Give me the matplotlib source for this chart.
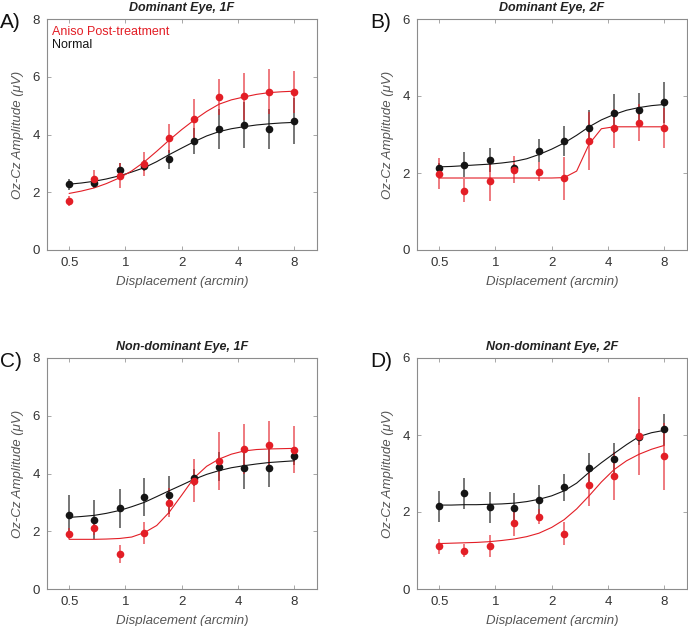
import matplotlib
matplotlib.use("Agg")
import matplotlib.pyplot as plt
import numpy as np

plt.rcParams['font.family'] = ['Liberation Sans', 'DejaVu Sans']

# displacement (arcmin), 10 log-spaced conditions
disp = [0.5, 0.68, 0.93, 1.26, 1.71, 2.33, 3.17, 4.31, 5.87, 8.0]
fit_x = [0.5, 0.58, 0.68, 0.79, 0.93, 1.08, 1.26, 1.47, 1.71, 2.0,
         2.33, 2.72, 3.17, 3.69, 4.31, 5.03, 5.87, 6.85, 8.0]

# A) Dominant Eye, 1F
a_aniso = [1.70, 2.46, 2.58, 2.97, 3.87, 4.54, 5.31, 5.32, 5.48, 5.47]
a_aniso_err = [0.18, 0.30, 0.43, 0.42, 0.50, 0.70, 0.62, 0.82, 0.78, 0.72]
a_norm = [2.27, 2.33, 2.77, 2.92, 3.14, 3.78, 4.19, 4.33, 4.19, 4.48]
a_norm_err = [0.18, 0.20, 0.25, 0.20, 0.32, 0.45, 0.70, 0.80, 0.70, 0.80]
a_aniso_fit = [1.96, 2.04, 2.15, 2.30, 2.50, 2.74, 3.05, 3.42, 3.80, 4.17,
               4.50, 4.80, 5.05, 5.20, 5.30, 5.39, 5.45, 5.48, 5.50]
a_norm_fit = [2.28, 2.32, 2.38, 2.46, 2.57, 2.70, 2.85, 3.06, 3.30, 3.53,
              3.75, 3.95, 4.10, 4.20, 4.27, 4.33, 4.37, 4.40, 4.42]

# B) Dominant Eye, 2F
b_aniso = [1.98, 1.54, 1.80, 2.08, 2.03, 1.86, 2.83, 3.16, 3.30, 3.18]
b_aniso_err = [0.40, 0.30, 0.53, 0.35, 0.25, 0.55, 0.75, 0.50, 0.48, 0.52]
b_norm = [2.14, 2.22, 2.34, 2.14, 2.58, 2.83, 3.18, 3.55, 3.64, 3.84]
b_norm_err = [0.12, 0.33, 0.32, 0.10, 0.30, 0.38, 0.45, 0.50, 0.43, 0.53]
b_aniso_fit = [1.87, 1.87, 1.87, 1.87, 1.87, 1.87, 1.87, 1.87, 1.87, 1.87,
               1.88, 2.05, 2.75, 3.15, 3.20, 3.20, 3.20, 3.20, 3.20]
b_norm_fit = [2.16, 2.17, 2.19, 2.21, 2.23, 2.26, 2.30, 2.37, 2.48, 2.62,
              2.78, 2.98, 3.20, 3.38, 3.52, 3.63, 3.70, 3.75, 3.78]

# C) Non-dominant Eye, 1F
c_aniso = [1.92, 2.11, 1.21, 1.95, 2.99, 3.75, 4.43, 4.84, 4.99, 4.83]
c_aniso_err = [0.20, 0.25, 0.30, 0.38, 0.50, 0.75, 1.00, 0.87, 0.83, 0.80]
c_norm = [2.58, 2.40, 2.79, 3.18, 3.25, 3.86, 4.23, 4.18, 4.20, 4.60]
c_norm_err = [0.68, 0.68, 0.69, 0.65, 0.65, 0.30, 0.50, 0.73, 0.66, 0.30]
c_aniso_fit = [1.72, 1.72, 1.72, 1.73, 1.75, 1.80, 1.95, 2.20, 2.65, 3.25,
               3.85, 4.25, 4.50, 4.67, 4.78, 4.83, 4.85, 4.86, 4.87]
c_norm_fit = [2.48, 2.51, 2.55, 2.62, 2.72, 2.85, 3.00, 3.20, 3.40, 3.60,
              3.80, 3.97, 4.10, 4.20, 4.27, 4.33, 4.38, 4.41, 4.44]

# D) Non-dominant Eye, 2F
d_aniso = [1.11, 1.00, 1.11, 1.72, 1.88, 1.44, 2.69, 2.93, 3.97, 3.45]
d_aniso_err = [0.20, 0.18, 0.28, 0.35, 0.20, 0.31, 0.53, 0.62, 1.02, 0.87]
d_norm = [2.15, 2.49, 2.12, 2.10, 2.32, 2.64, 3.14, 3.37, 3.95, 4.15]
d_norm_err = [0.40, 0.40, 0.40, 0.40, 0.38, 0.36, 0.38, 0.43, 0.20, 0.40]
d_aniso_fit = [1.18, 1.19, 1.20, 1.21, 1.23, 1.26, 1.30, 1.36, 1.45, 1.60,
               1.80, 2.08, 2.42, 2.78, 3.10, 3.33, 3.50, 3.63, 3.73]
d_norm_fit = [2.18, 2.18, 2.19, 2.19, 2.20, 2.21, 2.23, 2.27, 2.33, 2.42,
              2.55, 2.75, 3.03, 3.28, 3.52, 3.75, 3.96, 4.06, 4.12]

titles = ["Dominant Eye, 1F", "Dominant Eye, 2F",
          "Non-dominant Eye, 1F", "Non-dominant Eye, 2F"]
letters = ["A)", "B)", "C)", "D)"]
ymax = [8, 6, 8, 6]

panels = [
    (a_aniso, a_aniso_err, a_norm, a_norm_err, a_aniso_fit, a_norm_fit),
    (b_aniso, b_aniso_err, b_norm, b_norm_err, b_aniso_fit, b_norm_fit),
    (c_aniso, c_aniso_err, c_norm, c_norm_err, c_aniso_fit, c_norm_fit),
    (d_aniso, d_aniso_err, d_norm, d_norm_err, d_aniso_fit, d_norm_fit),
]

RED = '#e31e26'
BLK = '#151515'
GRAY = '#555555'

W, H = 688, 626
fig = plt.figure(figsize=(W / 100, H / 100), dpi=100)

# axes boxes in pixels: left, top
boxes = [(47, 19), (417, 19), (47, 358), (417, 358)]
aw, ah = 270, 231

for i, (an, an_e, no, no_e, an_fit, no_fit) in enumerate(panels):
    left, top = boxes[i]
    ax = fig.add_axes([left / W, (H - top - ah) / H, aw / W, ah / H])
    ax.set_xscale('log')

    ax.errorbar(disp, no, yerr=no_e, fmt='none', ecolor=BLK, elinewidth=1.1,
                alpha=0.75, zorder=2)
    ax.errorbar(disp, an, yerr=an_e, fmt='none', ecolor=RED, elinewidth=1.1,
                alpha=0.75, zorder=2)
    ax.plot(fit_x, no_fit, color=BLK, lw=0.8, zorder=3)
    ax.plot(fit_x, an_fit, color=RED, lw=0.8, zorder=3)
    ax.plot(disp, no, 'o', color=BLK, ms=5.5, mec='none', zorder=4)
    ax.plot(disp, an, 'o', color=RED, ms=5.5, mec='none', zorder=4)

    ax.set_xlim(0.38, 10.6)
    ax.set_ylim(0, ymax[i])
    ax.set_xticks([0.5, 1, 2, 4, 8])
    ax.set_xticklabels(['0.5', '1', '2', '4', '8'])
    ax.minorticks_off()
    ax.set_yticks(np.arange(0, ymax[i] + 1, 2))
    ax.tick_params(direction='in', top=True, right=True, length=3,
                   width=0.6, colors='#999999', labelcolor='#333333',
                   labelsize=9.5, pad=5)
    for s in ax.spines.values():
        s.set_color('#8c8c8c')
        s.set_linewidth(0.8)

    ax.set_title(titles[i], fontsize=9, fontweight='bold', style='italic',
                 color='#222222', pad=6)
    ax.set_xlabel('Displacement (arcmin)', fontsize=9.5, style='italic',
                  color=GRAY, labelpad=5)
    ax.set_ylabel('Oz-Cz Amplitude (μV)', fontsize=9.5, style='italic',
                  color=GRAY, labelpad=6)

    fig.text((left - 47) / W, 1 - (top - 6) / H, letters[i], fontsize=15,
             color='#111111', va='top', ha='left')

    if i == 0:
        ax.text(0.02, 0.97, 'Aniso Post-treatment', color=RED, fontsize=9,
                transform=ax.transAxes, va='top')
        ax.text(0.02, 0.915, 'Normal', color=BLK, fontsize=9,
                transform=ax.transAxes, va='top')

fig.savefig('out.png', dpi=100)
